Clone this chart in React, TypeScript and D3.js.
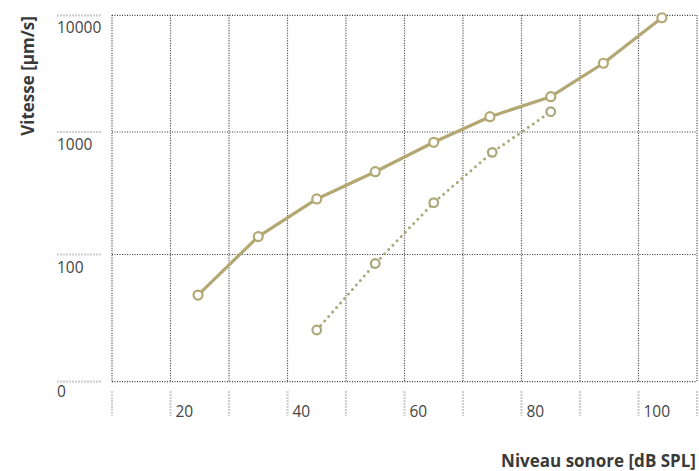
import React from "react";
import * as d3 from "d3";

const W = 699;
const H = 471;

const solidDb = [24.7, 35, 45, 55, 65, 74.6, 85, 94, 104];
const solidVel = [48, 140, 284, 474, 824, 1353, 2006, 3882, 9530];
const dottedDb = [45, 55, 65, 75, 85];
const dottedVel = [25.5, 85, 265, 682, 1493];

const xGridDb = [10, 20, 30, 40, 50, 60, 70, 80, 90, 100, 110];
const xTickLabels = [20, 40, 60, 80, 100];
const yGridVals = [10, 100, 1000, 10000];
const yTickLabels = ["0", "100", "1000", "10000"];

const lineColor = "#b3a773";
const dotColor = "#a9a87a";

export default function App() {
  const x = d3.scaleLinear().domain([10, 110]).range([112, 697]);
  const y = d3.scaleLog().domain([10, 100, 1000, 10000]).range([381.7, 254.5, 132, 15.3]);

  const solid = solidDb.map((d, i) => [x(d), y(solidVel[i])] as [number, number]);
  const dotted = dottedDb.map((d, i) => [x(d), y(dottedVel[i])] as [number, number]);
  const line = d3.line();

  const font = "'Open Sans', sans-serif";

  return (
    <svg width={W} height={H} style={{ position: "absolute", left: 0, top: 0, background: "#fff" }}>
      {/* decorative left ticks */}
      {yGridVals.map((v) => (
        <line key={"lt" + v} x1={57} x2={102} y1={y(v)} y2={y(v)} stroke="#cfcfcf" strokeWidth={2.2} strokeDasharray="2 1" />
      ))}
      {/* decorative bottom ticks */}
      {xGridDb.map((d) => (
        <line key={"bt" + d} x1={x(d)} x2={x(d)} y1={391} y2={416} stroke="#cfcfcf" strokeWidth={2.2} strokeDasharray="2 1" />
      ))}
      {/* grid */}
      {xGridDb.map((d) => (
        <line key={"gx" + d} x1={x(d)} x2={x(d)} y1={y(10000)} y2={y(10)} stroke="#3a3a3a" strokeWidth={1.2} strokeDasharray="1 1.5" />
      ))}
      {yGridVals.map((v) => (
        <line key={"gy" + v} x1={x(10)} x2={x(110)} y1={y(v)} y2={y(v)} stroke="#3a3a3a" strokeWidth={1.2} strokeDasharray="1 1.5" />
      ))}
      {/* y tick labels */}
      {yGridVals.map((v, i) => (
        <text key={"yl" + v} x={57} y={y(v) + (i === 0 ? 15.5 : 18)} fontFamily={font} fontSize={15.5} fill="#444">
          {yTickLabels[i]}
        </text>
      ))}
      {/* x tick labels */}
      {xTickLabels.map((d) => (
        <text key={"xl" + d} x={x(d) + 5} y={417} fontFamily={font} fontSize={15.5} fill="#444">
          {d}
        </text>
      ))}
      {/* dotted series */}
      <path d={line(dotted) || ""} fill="none" stroke={dotColor} strokeWidth={3} strokeLinecap="round" strokeDasharray="0 6" />
      {/* solid series */}
      <path d={line(solid) || ""} fill="none" stroke={lineColor} strokeWidth={3.2} strokeLinejoin="round" />
      {dotted.map((p, i) => (
        <circle key={"dm" + i} cx={p[0]} cy={p[1]} r={4.3} fill="#fff" stroke={dotColor} strokeWidth={2.2} />
      ))}
      {solid.map((p, i) => (
        <circle key={"sm" + i} cx={p[0]} cy={p[1]} r={4.5} fill="#fff" stroke={lineColor} strokeWidth={2.2} />
      ))}
      {/* axis titles */}
      <text
        transform="translate(34,76) rotate(-90)"
        textAnchor="middle"
        fontFamily={font}
        fontWeight={700}
        fontSize={17}
        fill="#3a3a3a"
      >
        Vitesse [µm/s]
      </text>
      <text
        x={696}
        y={467}
        textAnchor="end"
        fontFamily={font}
        fontWeight={700}
        fontSize={17}
        fill="#3a3a3a"
      >
        Niveau sonore [dB SPL]
      </text>
    </svg>
  );
}
